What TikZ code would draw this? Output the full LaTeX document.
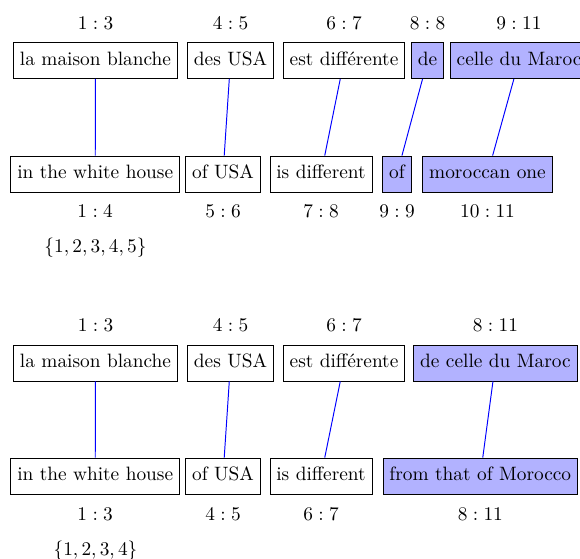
\documentclass[tikz,border=0pt]{standalone}
\begin{document}
\begin{tikzpicture}[x=0.5172pt,y=-0.5172pt,
  box/.style={draw, inner sep=0.3333em, execute at begin node=\strut},
  hl/.style={box, fill=blue!30},
  link/.style={blue, line width=0.5pt},
  lab/.style={inner sep=0pt}]
\clip (0,0) rectangle (580,558);
% ---------- upper alignment ----------
\node[lab] (l1) at (95.5,23) {$1:3$};
\node[lab] (l2) at (230.5,23) {$4:5$};
\node[lab] (l3) at (344,23) {$6:7$};
\node[lab] (l4) at (427.5,23) {$8:8$};
\node[lab] (l5) at (519,23) {$9:11$};
\node[box] (f1) at (95.5,60.5) {la maison blanche};
\node[box] (f2) at (230.5,60.5) {des USA};
\node[box] (f3) at (344,60.5) {est différente};
\node[hl] (f4) at (427.5,60.5) {de};
\node[hl] (f5) at (519,60.5) {celle du Maroc};
\node[box] (e1) at (95.2,174) {in the white house};
\node[box] (e2) at (223,174) {of USA};
\node[box] (e3) at (321,174) {is different};
\node[hl] (e4) at (397,174) {of};
\node[hl] (e5) at (487.5,174) {moroccan one};
\node[lab] (m1) at (95.2,211) {$1:4$};
\node[lab] (m2) at (223,211) {$5:6$};
\node[lab] (m3) at (321,211) {$7:8$};
\node[lab] (m4) at (397,211) {$9:9$};
\node[lab] (m5) at (487.5,211) {$10:11$};
\node[lab] (s1) at (95.5,248) {$\{1,2,3,4,5\}$};
\draw[link] (f1) -- (e1);
\draw[link] (f2) -- (e2);
\draw[link] (f3) -- (e3);
\draw[link] (f4) -- (e4);
\draw[link] (f5) -- (e5);
% ---------- lower alignment ----------
\node[lab] (L1) at (95.5,325) {$1:3$};
\node[lab] (L2) at (230.5,325) {$4:5$};
\node[lab] (L3) at (344,325) {$6:7$};
\node[lab] (L4) at (495.4,325) {$8:11$};
\node[box] (F1) at (95.5,363) {la maison blanche};
\node[box] (F2) at (230.5,363) {des USA};
\node[box] (F3) at (344,363) {est différente};
\node[hl] (F4) at (495.4,363) {de celle du Maroc};
\node[box] (E1) at (95.2,476) {in the white house};
\node[box] (E2) at (223,476) {of USA};
\node[box] (E3) at (321,476) {is different};
\node[hl] (E4) at (480.3,476) {from that of Morocco};
\node[lab] (M1) at (95.2,514) {$1:3$};
\node[lab] (M2) at (223,514) {$4:5$};
\node[lab] (M3) at (321,514) {$6:7$};
\node[lab] (M4) at (480.3,514) {$8:11$};
\node[lab] (S1) at (95.5,551) {$\{1,2,3,4\}$};
\draw[link] (F1) -- (E1);
\draw[link] (F2) -- (E2);
\draw[link] (F3) -- (E3);
\draw[link] (F4) -- (E4);
\end{tikzpicture}
\end{document}
